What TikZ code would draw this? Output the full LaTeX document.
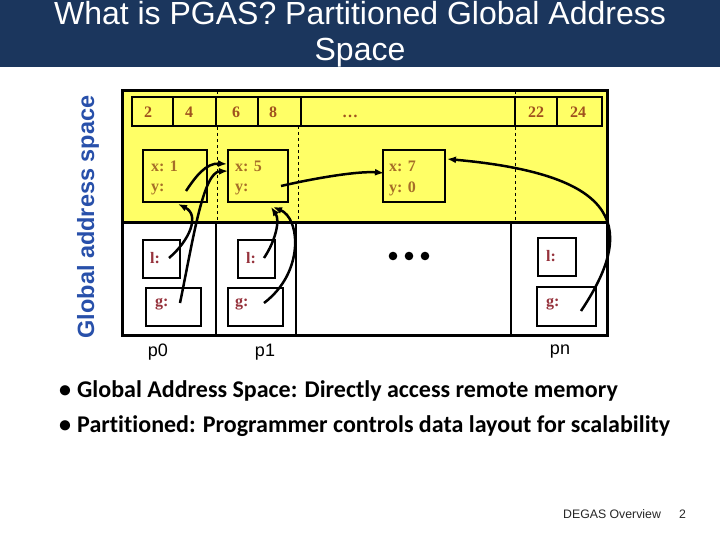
\documentclass[tikz,border=0pt]{standalone}
\usepackage{fontspec}
\setmainfont{Liberation Sans}
\newfontfamily\tms{Liberation Serif}
\newfontfamily\calib[Ligatures=CommonOff]{Carlito}
\usetikzlibrary{arrows.meta}
\definecolor{titlebg}{RGB}{27,54,93}
\definecolor{ylw}{RGB}{255,255,102}
\definecolor{numc}{RGB}{160,82,30}
\definecolor{varc}{RGB}{166,110,40}
\definecolor{regc}{RGB}{150,50,60}
\definecolor{gasblue}{RGB}{40,80,170}
\begin{document}
\begin{tikzpicture}[x=1pt,y=-1pt,
  cell/.style={draw,line width=2pt,fill=ylw},
  membox/.style={draw,line width=2pt},
  numtxt/.style={font=\tms\bfseries\fontsize{16}{18}\selectfont,text=numc,inner sep=0pt},
  vartxt/.style={font=\tms\bfseries\fontsize{16}{18}\selectfont,text=varc,inner sep=0pt,anchor=west},
  regtxt/.style={font=\tms\bfseries\fontsize{16}{18}\selectfont,text=regc,inner sep=0pt,anchor=west},
  proc/.style={font=\fontsize{18}{20}\selectfont,inner sep=0pt},
  ptr/.style={line width=2.5pt,-{Latex[length=9pt,width=7pt]}},
  part/.style={line width=2pt},
  sep/.style={dashed,line width=0.8pt},
  bullettxt/.style={font=\calib\bfseries\fontsize{24}{28}\selectfont,inner sep=0pt,anchor=base west}]
\useasboundingbox (0,0) rectangle (720,540);
\fill[white] (0,0) rectangle (720,540);
% title bar
\fill[titlebg] (0,0) rectangle (720,67);
\node[text=white,font=\fontsize{32}{36}\selectfont,anchor=base,inner sep=0pt] (title1) at (360,25) {What is PGAS? Partitioned Global Address};
\node[text=white,font=\fontsize{32}{36}\selectfont,anchor=base,inner sep=0pt] (title2) at (360,61) {Space};
% vertical label
\node[rotate=90,text=gasblue,font=\bfseries\fontsize{23.5}{26}\selectfont,inner sep=0pt] (gas) at (88,217) {Global address space};
% memory frame
\fill[ylw] (122,91) rectangle (607,223);
\draw[sep] (217,91) -- (217,223);
\draw[sep] (298,126) -- (298,223);
\draw[sep] (515,91) -- (515,223);
\draw[part] (216,223) -- (216,335);
\draw[part] (296,223) -- (296,335);
\draw[part] (511,223) -- (511,335);
\draw[line width=3pt] (122,223) -- (607,223);
\draw[line width=3pt] (122,91) rectangle (607,335);
% shared array
\draw[cell] (132,97) rectangle (173,126);
\draw[cell] (173,97) rectangle (216,126);
\draw[cell] (216,97) rectangle (258,126);
\draw[cell] (258,97) rectangle (301,126);
\draw[cell] (301,97) rectangle (515,126);
\draw[cell] (515,97) rectangle (557,126);
\draw[cell] (557,97) rectangle (602,126);
\node[numtxt] (n2) at (148,112) {2};
\node[numtxt] (n4) at (189,112) {4};
\node[numtxt] (n6) at (236,112) {6};
\node[numtxt] (n8) at (273,112) {8};
\node[numtxt,anchor=base] (ndots) at (350,118) {\ldots};
\node[numtxt] (n22) at (536,112) {22};
\node[numtxt] (n24) at (578,112) {24};
% shared x/y boxes
\draw[membox] (143,150) rectangle (207,202);
\draw[membox] (228,150) rectangle (288,202);
\draw[membox] (383,150) rectangle (445,202);
\node[vartxt] (x0) at (151,166) {x: 1};
\node[vartxt] (y0) at (151,189) {y:};
\node[vartxt] (x1) at (235,166) {x: 5};
\node[vartxt] (y1) at (235,189) {y:};
\node[vartxt] (x2) at (389,166) {x: 7};
\node[vartxt] (y2) at (389,189) {y: 0};
% private l/g boxes
\draw[membox] (143,240) rectangle (180,278);
\draw[membox] (146,288) rectangle (201,326);
\draw[membox] (238,240) rectangle (275,278);
\draw[membox] (228,288) rectangle (283,326);
\draw[membox] (538,238) rectangle (576,276);
\draw[membox] (537,287) rectangle (596,326);
\node[regtxt] (l0) at (150,258) {l:};
\node[regtxt] (g0) at (155,304) {g:};
\node[regtxt] (l1) at (246,258) {l:};
\node[regtxt] (g1) at (235,304) {g:};
\node[regtxt] (l2) at (546,256) {l:};
\node[regtxt] (g2) at (546,304) {g:};
% big dots
\fill (393,256) circle (4.3);
\fill (409,256) circle (4.3);
\fill (425,256) circle (4.3);
% processor labels
\node[proc] (p0) at (158,352) {p0};
\node[proc] (p1) at (265,352) {p1};
\node[proc] (pn) at (560,352) {pn};
% pointer coordinates
\coordinate (s1) at (169,258);
\coordinate (e1) at (178,204);
\coordinate (s2) at (186,191);
\coordinate (e2) at (227,164);
\coordinate (s3) at (180,303);
\coordinate (e3) at (228,171);
\coordinate (s4) at (264,258);
\coordinate (e4) at (271,207);
\coordinate (s5) at (264,303);
\coordinate (e5) at (273,207);
\coordinate (s6) at (281,186);
\coordinate (e6) at (384,173);
\coordinate (s7) at (581,311);
\coordinate (e7) at (447,159);
\draw[ptr] (s1) .. controls (190,240) and (200,215) .. (e1);
\draw[ptr] (s2) .. controls (196,176) and (206,163) .. (e2);
\draw[ptr] (s3) .. controls (193,240) and (203,172) .. (e3);
\draw[ptr] (s4) .. controls (276,240) and (280,220) .. (e4);
\draw[ptr] (s5) .. controls (305,272) and (300,218) .. (e5);
\draw[ptr] (s6) .. controls (320,177) and (360,171) .. (e6);
\draw[ptr] (s7) .. controls (635,230) and (625,175) .. (e7);
% bullets
\node[bullettxt] (b1dot) at (59,397) {•};
\node[bullettxt] (b1) at (77,397) {Global Address Space: Directly access remote memory};
\node[bullettxt] (b2dot) at (59,432) {•};
\node[bullettxt] (b2) at (77,432) {Partitioned: Programmer controls data layout for scalability};
% footer
\node[font=\fontsize{12.3}{14}\selectfont,text=black!85,anchor=base west,inner sep=0pt] (foot) at (563,518) {DEGAS Overview};
\node[font=\fontsize{12.3}{14}\selectfont,text=black!85,anchor=base west,inner sep=0pt] (pg) at (679,518) {2};
\end{tikzpicture}
\end{document}
